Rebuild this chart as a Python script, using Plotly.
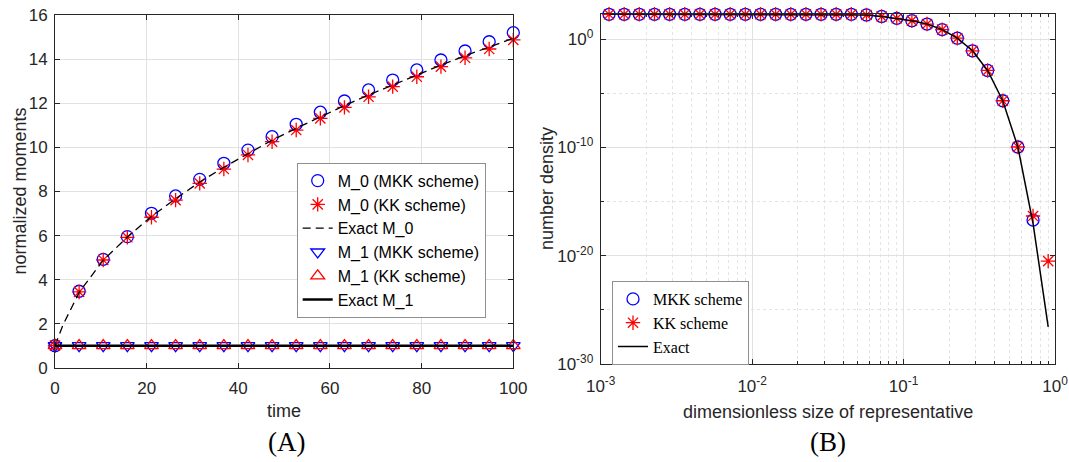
import plotly.graph_objects as go

# ---------------- data: panel A ----------------
time = [0, 5.263, 10.526, 15.789, 21.053, 26.316, 31.579, 36.842, 42.105, 47.368,
        52.632, 57.895, 63.158, 68.421, 73.684, 78.947, 84.211, 89.474, 94.737, 100]
m0_mkk = [1.0, 3.47, 4.92, 5.95, 7.01, 7.80, 8.55, 9.28, 9.88, 10.49,
          11.05, 11.60, 12.11, 12.61, 13.06, 13.52, 13.97, 14.38, 14.80, 15.21]
m0_kk = [1.0, 3.44, 4.89, 5.92, 6.83, 7.61, 8.37, 9.02, 9.66, 10.26,
         10.79, 11.32, 11.82, 12.30, 12.76, 13.21, 13.67, 14.07, 14.47, 14.88]
exact_m0_t = [0, 1.75, 5.263, 10.526, 15.789, 21.053, 26.316, 31.579, 36.842, 42.105, 47.368,
              52.632, 57.895, 63.158, 68.421, 73.684, 78.947, 84.211, 89.474, 94.737, 100]
exact_m0 = [1.0, 1.94, 3.42, 4.88, 5.93, 6.87, 7.67, 8.43, 9.10, 9.73, 10.33,
            10.87, 11.40, 11.90, 12.38, 12.84, 13.29, 13.74, 14.16, 14.56, 14.96]
m1_mkk = [1.0] * 20
m1_kk = [1.0] * 20
exact_m1_t = [0, 100]
exact_m1 = [1.0, 1.0]

# ---------------- data: panel B ----------------
size = [1.135e-3, 1.429e-3, 1.799e-3, 2.265e-3, 2.851e-3, 3.589e-3, 4.519e-3, 5.689e-3,
        7.161e-3, 9.016e-3, 1.135e-2, 1.429e-2, 1.799e-2, 2.265e-2, 2.851e-2, 3.589e-2,
        4.519e-2, 5.689e-2, 7.161e-2, 9.016e-2, 0.1135, 0.1429, 0.1799, 0.2265, 0.2851,
        0.3589, 0.4519, 0.5689, 0.7161, 0.9016]
nd_mkk = [204, 204, 204, 204, 204, 204, 204, 204, 204, 204, 204, 204, 204, 204, 204, 204,
          204, 178, 129, 87, 52.5, 25.7, 7.9, 1.26, 8.7e-2, 1.32e-3, 2.1e-6, 1.12e-10,
          2.0e-17, None]
nd_kk = [204, 204, 204, 204, 204, 204, 204, 204, 204, 204, 204, 204, 204, 204, 204, 204,
         204, 178, 129, 87, 52.5, 25.7, 7.9, 1.26, 8.7e-2, 1.32e-3, 2.1e-6, 1.12e-10,
         4.7e-17, 3.2e-21]
nd_exact = [204, 204, 204, 204, 204, 204, 204, 204, 204, 204, 204, 204, 204, 204, 204, 204,
            204, 178, 129, 87, 52.5, 25.7, 7.9, 1.26, 8.7e-2, 1.32e-3, 2.1e-6, 1.12e-10,
            1.0e-17, 2.75e-27]

xticks_a = [0, 20, 40, 60, 80, 100]
yticks_a = [0, 2, 4, 6, 8, 10, 12, 14, 16]
xticks_b = [1e-3, 1e-2, 1e-1, 1]
xticks_b_text = ["10<sup>-3</sup>", "10<sup>-2</sup>", "10<sup>-1</sup>", "10<sup>0</sup>"]
yticks_b = [1e-30, 1e-20, 1e-10, 1]
yticks_b_text = ["10<sup>-30</sup>", "10<sup>-20</sup>", "10<sup>-10</sup>", "10<sup>0</sup>"]
xminor_b = [m * 10.0 ** e for e in (-3, -2, -1) for m in range(2, 10)]
yminor_b = [1e-25, 1e-15, 1e-5]

BLUE = "#0000ff"
RED = "#ff0000"
INK = "#262626"
SANS = "Liberation Sans, Arial, sans-serif"
SERIF = "Liberation Serif, Times New Roman, serif"

fig = go.Figure()

# panel A traces
fig.add_trace(go.Scatter(x=time, y=m0_mkk, mode="markers", name="M_0 (MKK scheme)",
                         marker=dict(symbol="circle-open", size=12, color=BLUE, line=dict(width=1.3)),
                         xaxis="x", yaxis="y", legend="legend", cliponaxis=False))
fig.add_trace(go.Scatter(x=time, y=m0_kk, mode="markers", name="M_0 (KK scheme)",
                         marker=dict(symbol="asterisk-open", size=12, color=RED, line=dict(width=1.3, color=RED)),
                         xaxis="x", yaxis="y", legend="legend", cliponaxis=False))
fig.add_trace(go.Scatter(x=exact_m0_t, y=exact_m0, mode="lines", name="Exact M_0",
                         line=dict(color="black", width=1.3, dash="8px,5px"),
                         xaxis="x", yaxis="y", legend="legend"))
fig.add_trace(go.Scatter(x=time, y=m1_mkk, mode="markers", name="M_1 (MKK scheme)",
                         marker=dict(symbol="triangle-down-open", size=12, color=BLUE, line=dict(width=1.3)),
                         xaxis="x", yaxis="y", legend="legend", cliponaxis=False))
fig.add_trace(go.Scatter(x=time, y=m1_kk, mode="markers", name="M_1 (KK scheme)",
                         marker=dict(symbol="triangle-up-open", size=12, color=RED, line=dict(width=1.3)),
                         xaxis="x", yaxis="y", legend="legend", cliponaxis=False))
fig.add_trace(go.Scatter(x=exact_m1_t, y=exact_m1, mode="lines", name="Exact M_1",
                         line=dict(color="black", width=2.5),
                         xaxis="x", yaxis="y", legend="legend"))

# panel B traces
fig.add_trace(go.Scatter(x=size, y=nd_mkk, mode="markers", name="MKK scheme",
                         marker=dict(symbol="circle-open", size=12, color=BLUE, line=dict(width=1.3)),
                         xaxis="x2", yaxis="y2", legend="legend2", cliponaxis=False))
fig.add_trace(go.Scatter(x=size, y=nd_kk, mode="markers", name="KK scheme",
                         marker=dict(symbol="asterisk-open", size=12, color=RED, line=dict(width=1.3, color=RED)),
                         xaxis="x2", yaxis="y2", legend="legend2", cliponaxis=False))
fig.add_trace(go.Scatter(x=size, y=nd_exact, mode="lines", name="Exact",
                         line=dict(color="black", width=1.5),
                         xaxis="x2", yaxis="y2", legend="legend2"))

W, H = 1069, 462
def px_x(p):
    return p / W
def px_y(p):
    return 1 - p / H

axis_common = dict(showline=True, linecolor=INK, linewidth=1, mirror="allticks",
                   ticks="inside", ticklen=5, tickcolor=INK, tickwidth=1,
                   showgrid=True, gridcolor="#e1e1e1", gridwidth=1, zeroline=False,
                   automargin=False,
                   tickfont=dict(family=SANS, size=17, color=INK))
minor_common = dict(tickmode="array", ticks="inside", ticklen=3, tickcolor=INK,
                    showgrid=True, griddash="dot", gridcolor="#e4e4e4", gridwidth=1)

def label(text, x, y, size, family=SANS, angle=0, color=INK):
    return dict(text=text, x=px_x(x), y=px_y(y), xref="paper", yref="paper",
                xanchor="center", yanchor="middle", showarrow=False, textangle=angle,
                font=dict(family=family, size=size, color=color))

fig.update_layout(
    width=W, height=H, margin=dict(l=0, r=0, t=0, b=0, autoexpand=False),
    paper_bgcolor="white", plot_bgcolor="white", showlegend=True,
    xaxis=dict(domain=[px_x(55), px_x(513.3)], range=[0, 100], tickvals=xticks_a,
               anchor="y", ticklabelstandoff=5, **axis_common),
    yaxis=dict(domain=[px_y(367.7), px_y(15.3)], range=[0, 16], tickvals=yticks_a,
               anchor="x", ticklabelstandoff=3, **axis_common),
    xaxis2=dict(domain=[px_x(600.7), px_x(1055)], type="log", range=[-3, 0],
                tickvals=xticks_b, ticktext=xticks_b_text, anchor="y2", ticklabelstandoff=7,
                minor=dict(tickvals=xminor_b, **minor_common),
                **axis_common),
    yaxis2=dict(domain=[px_y(364), px_y(14.3)], type="log", range=[-30, 2.31],
                tickvals=yticks_b, ticktext=yticks_b_text, anchor="x2", ticklabelstandoff=3,
                minor=dict(tickvals=yminor_b, **minor_common),
                **axis_common),
    legend=dict(x=px_x(296.7), y=px_y(162.7), xanchor="left", yanchor="top",
                bgcolor="white", bordercolor="#8f8f8f", borderwidth=1,
                font=dict(family=SANS, size=16, color="black"), tracegroupgap=0,
                itemsizing="trace"),
    legend2=dict(x=px_x(612), y=px_y(281), xanchor="left", yanchor="top",
                 bgcolor="white", bordercolor="#8f8f8f", borderwidth=1,
                 font=dict(family=SERIF, size=16, color="black"), tracegroupgap=0,
                 itemsizing="trace"),
    annotations=[
        label("time", 284, 411, 18),
        label("normalized moments", 19, 191.5, 18, angle=-90),
        label("dimensionless size of representative", 828, 412, 18),
        label("number density", 547, 189, 18, angle=-90),
        label("(A)", 286, 442, 27, family=SERIF, color="black"),
        label("(B)", 828, 442, 27, family=SERIF, color="black"),
    ],
)

fig.write_html("out.html")
